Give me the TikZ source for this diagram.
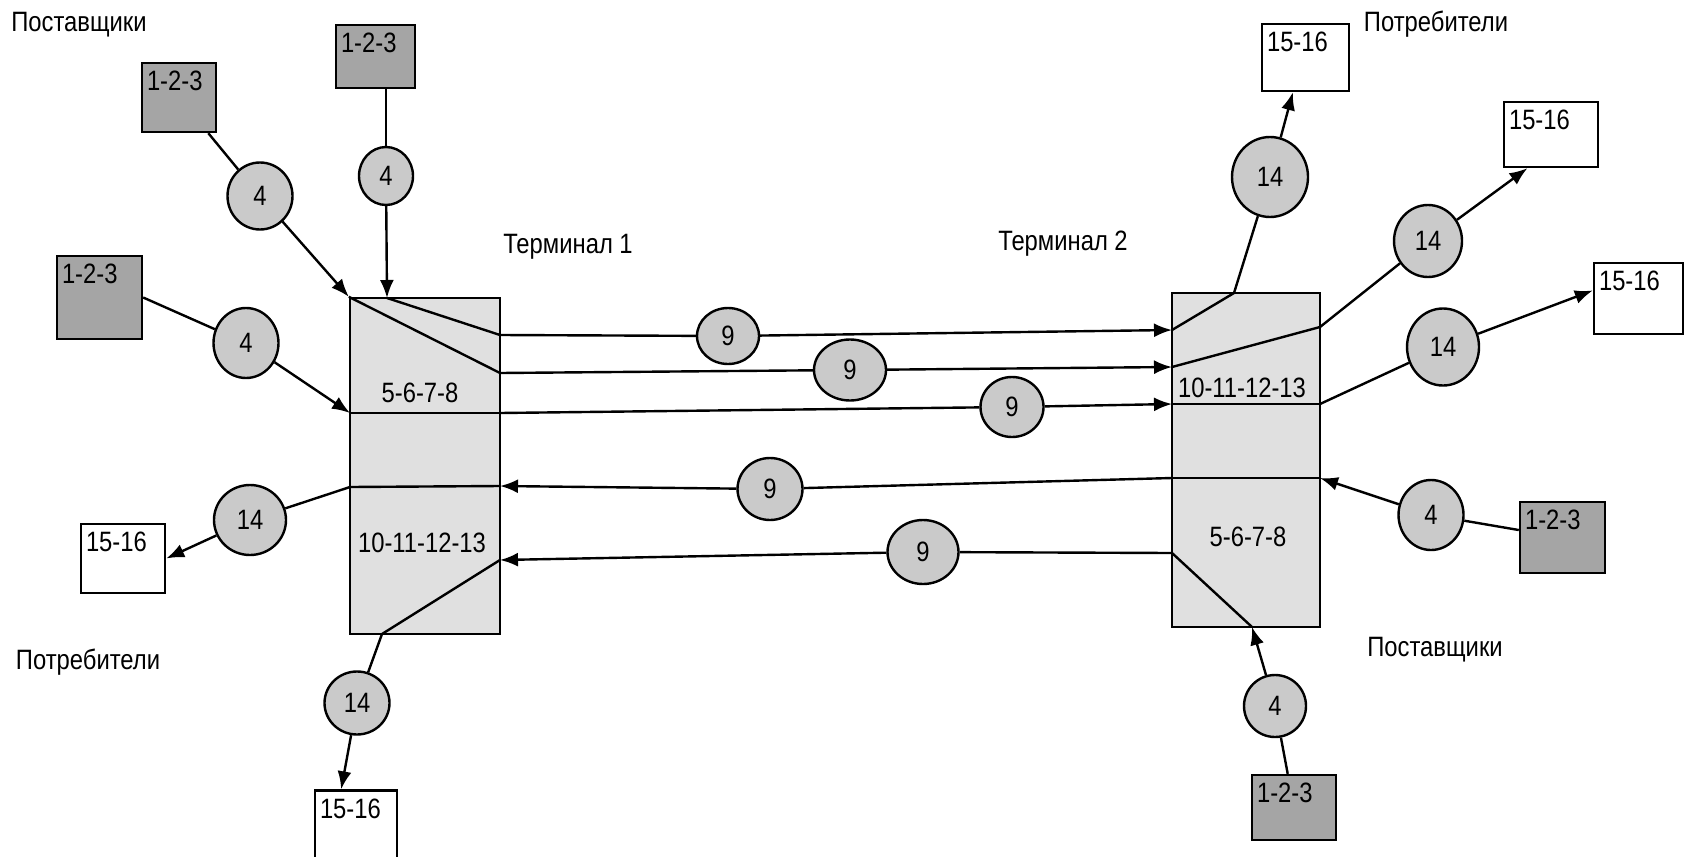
\documentclass[tikz,border=0pt]{standalone}
\usepackage{fontspec}
\setmainfont{Liberation Sans}[FakeStretch=0.85]
\usetikzlibrary{arrows.meta,shapes.geometric,calc}
\definecolor{termfill}{RGB}{224,224,224}
\definecolor{circfill}{RGB}{202,202,202}
\definecolor{srcfill}{RGB}{165,165,165}
\begin{document}
\begin{tikzpicture}[x=0.5pt,y=-0.5pt,
  line width=1.2pt,
  arr/.style={-{Latex[length=9pt,width=7pt]}},
  term/.style={draw,fill=termfill,rectangle,inner sep=0pt},
  bubble/.style={draw,fill=circfill,ellipse,inner sep=0pt,font=\fontsize{14}{16}\selectfont},
  srcbox/.style={draw,fill=srcfill,rectangle,inner sep=0pt},
  dstbox/.style={draw,fill=white,rectangle,inner sep=0pt},
  boxtext/.style={font=\fontsize{14}{16}\selectfont,inner xsep=2.5pt,inner ysep=4pt,anchor=north west},
  lbl/.style={font=\fontsize{14}{16}\selectfont,inner sep=0pt},
  num/.style={font=\fontsize{14}{16}\selectfont,inner sep=0pt}]
\fill[white] (0,0) rectangle (1684,856);
\useasboundingbox (0,0) rectangle (1684,856);

% terminals
\node[term,minimum width=75pt,minimum height=168pt] (T1) at (425,466) {};
\node[term,minimum width=74pt,minimum height=167pt] (T2) at (1246,460) {};

\coordinate (t1a) at (387,298);
\coordinate (t1r1) at (500,335);
\coordinate (t1r2) at (500,373);
\coordinate (t1l3) at (350,413);
\coordinate (t1r3) at (500,413);
\coordinate (t1l4) at (350,487);
\coordinate (t1r4) at (500,486);
\coordinate (t1b) at (382,634);
\coordinate (t1r5) at (500,560);

\coordinate (t2l1) at (1172,330);
\coordinate (t2t) at (1234,293);
\coordinate (t2l2) at (1172,367);
\coordinate (t2r2) at (1320,327);
\coordinate (t2l3) at (1172,404);
\coordinate (t2r3) at (1320,404);
\coordinate (t2l4) at (1172,478);
\coordinate (t2r4) at (1320,478);
\coordinate (t2l5) at (1172,553);
\coordinate (t2b) at (1252,627);

\draw (T1.north west) -- (t1r2);
\draw (t1a) -- (t1r1);
\draw (t1l3) -- (t1r3);
\draw (t1l4) -- (t1r4);
\draw (t1b) -- (t1r5);

\draw (t2l1) -- (t2t);
\draw (t2l2) -- (t2r2);
\draw (t2l3) -- (t2r3);
\draw (t2l4) -- (t2r4);
\draw (t2l5) -- (t2b);

\node[num] (t1up) at (420,393) {5-6-7-8};
\node[num] (t1lo) at (422,543) {10-11-12-13};
\node[num] (t2up) at (1242,388) {10-11-12-13};
\node[num] (t2lo) at (1248,537) {5-6-7-8};

% suppliers
\node[srcbox,minimum width=37pt,minimum height=34.5pt,label={[boxtext]north west:1-2-3}] (b1) at (179,97.5) {};
\node[srcbox,minimum width=39.5pt,minimum height=31.5pt,label={[boxtext]north west:1-2-3}] (b2) at (375.5,56.5) {};
\node[srcbox,minimum width=42.5pt,minimum height=41.5pt,label={[boxtext]north west:1-2-3}] (b3) at (99.5,297.5) {};
\node[srcbox,minimum width=42.5pt,minimum height=35.5pt,label={[boxtext]north west:1-2-3}] (b4) at (1562.5,537.5) {};
\node[srcbox,minimum width=42pt,minimum height=32.5pt,label={[boxtext]north west:1-2-3}] (b5) at (1294,807.5) {};

% consumers
\node[dstbox,minimum width=43.5pt,minimum height=33.5pt,label={[boxtext]north west:15-16}] (w1) at (1305.5,57.5) {};
\node[dstbox,minimum width=47pt,minimum height=32.5pt,label={[boxtext]north west:15-16}] (w2) at (1551,134.5) {};
\node[dstbox,minimum width=44.5pt,minimum height=35.5pt,label={[boxtext]north west:15-16}] (w3) at (1638.5,298.5) {};
\node[dstbox,minimum width=42pt,minimum height=34.5pt,label={[boxtext]north west:15-16}] (w4) at (123,558.5) {};
\node[dstbox,minimum width=41pt,minimum height=39.5pt,label={[boxtext]north west:15-16}] (w5) at (356,830) {};

% bubbles
\node[bubble,minimum width=32.5pt,minimum height=33.5pt] (c4a) at (260,196) {4};
\node[bubble,minimum width=27pt,minimum height=29pt] (c4b) at (386,176) {4};
\node[bubble,minimum width=32.5pt,minimum height=35pt] (c4c) at (246,343) {4};
\node[bubble,minimum width=32.5pt,minimum height=35pt] (c4d) at (1431,515) {4};
\node[bubble,minimum width=31pt,minimum height=31pt] (c4e) at (1275,706) {4};

\node[bubble,minimum width=31pt,minimum height=28pt] (c9a) at (728,336) {9};
\node[bubble,minimum width=36pt,minimum height=30.5pt] (c9b) at (850,370) {9};
\node[bubble,minimum width=31.5pt,minimum height=30pt] (c9c) at (1012,407) {9};
\node[bubble,minimum width=32.5pt,minimum height=31pt] (c9d) at (770,489) {9};
\node[bubble,minimum width=35.5pt,minimum height=32pt] (c9e) at (923,552) {9};

\node[bubble,minimum width=36pt,minimum height=35pt] (c14a) at (250,520) {14};
\node[bubble,minimum width=32.5pt,minimum height=31.5pt] (c14b) at (357,703) {14};
\node[bubble,minimum width=38pt,minimum height=40pt] (c14c) at (1270,177) {14};
\node[bubble,minimum width=34pt,minimum height=36pt] (c14d) at (1428,241) {14};
\node[bubble,minimum width=36pt,minimum height=38.5pt] (c14e) at (1443,347) {14};

% connectors
\draw (b1) -- (c4a);
\draw[arr] (c4a) -- (T1.north west);
\draw (c4b |- b2.south) -- (c4b);
\draw[arr] (c4b) -- (t1a);
\draw (b3.east) -- (c4c);
\draw[arr] (c4c) -- (t1l3);
\draw (t1l4) -- (c14a);
\draw[arr] (c14a) -- (w4.east);
\draw (t1b) -- (c14b);
\draw[arr] (c14b) -- (w5.110);

\draw (t1r1) -- (c9a);
\draw[arr] (c9a) -- (t2l1);
\draw (t1r2) -- (c9b);
\draw[arr] (c9b) -- (t2l2);
\draw (t1r3) -- (c9c);
\draw[arr] (c9c) -- (t2l3);
\draw (t2l4) -- (c9d);
\draw[arr] (c9d) -- (t1r4);
\draw (t2l5) -- (c9e);
\draw[arr] (c9e) -- (t1r5);

\draw (t2t) -- (c14c);
\draw[arr] (c14c) -- (w1.250);
\draw (t2r2) -- (c14d);
\draw[arr] (c14d) -- (w2.235);
\draw (t2r3) -- (c14e);
\draw[arr] (c14e) -- (w3.170);
\draw (b4) -- (c4d);
\draw[arr] (c4d) -- (t2r4);
\draw (b5) -- (c4e);
\draw[arr] (c4e) -- (t2b);

% labels
\node[lbl] (sup1) at (79,25) {Поставщики};
\node[lbl] (term1) at (568,247) {Терминал 1};
\node[lbl] (term2) at (1063,244) {Терминал 2};
\node[lbl] (con1) at (1436,24) {Потребители};
\node[lbl] (con2) at (88,662) {Потребители};
\node[lbl] (sup2) at (1435,650) {Поставщики};
\end{tikzpicture}
\end{document}
